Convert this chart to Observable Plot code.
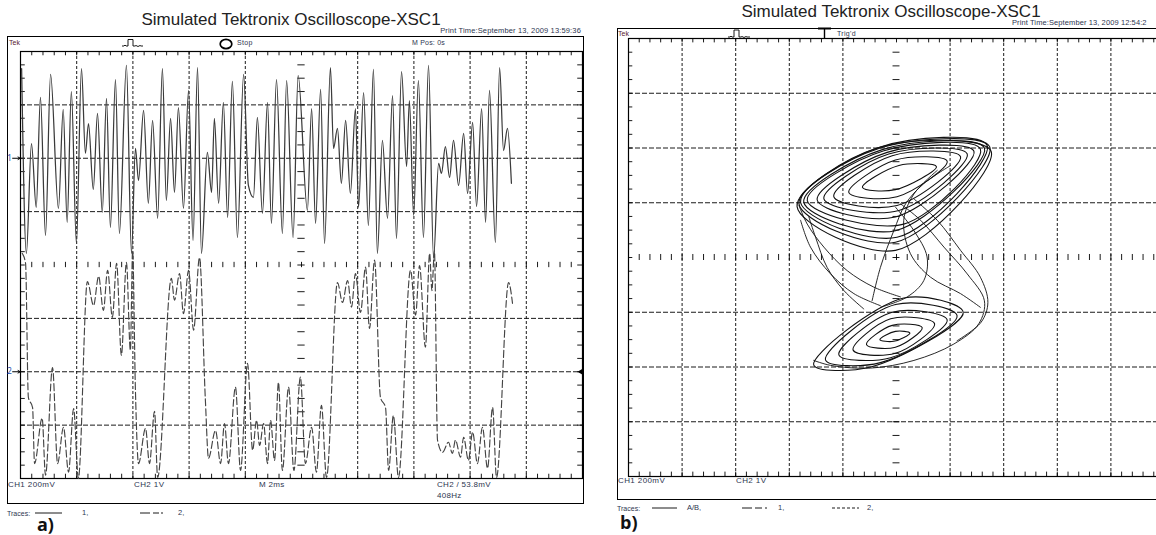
<!DOCTYPE html>
<html>
<head>
<meta charset="utf-8">
<script src="https://cdn.jsdelivr.net/npm/d3@7"></script>
<script src="https://cdn.jsdelivr.net/npm/@observablehq/plot@0.6"></script>
<style>
html,body{margin:0;padding:0;background:#fff;}
#root{position:relative;width:1156px;height:535px;overflow:hidden;font-family:"Liberation Sans",Arial,Helvetica,sans-serif;background:#fff;}
.t{position:absolute;white-space:nowrap;line-height:1;}
.box{position:absolute;border:1px solid #000;box-sizing:border-box;}
.layer{position:absolute;top:0;}
</style>
</head>
<body>
<div id="root"></div>
<script>
// ---------------- Panel a) : time traces ----------------
const title = "Simulated Tektronix Oscilloscope-XSC1";
const printTimeA = "Print Time:September 13, 2009 13:59:36";
const printTimeB = "Print Time:September 13, 2009 12:54:2";
const footerA = ["CH1  200mV", "CH2  1V", "M 2ms", "CH2 / 53.8mV", "408Hz"];
const footerB = ["CH1  200mV", "CH2  1V"];

// CH1 trace (solid): time in ms, value in mV (200 mV/div, marker at +2 div)
const trace1Time = [0.04,0.21,0.39,0.56,0.71,0.89,1.07,1.35,1.52,1.66,
  1.81,1.99,2.17,2.31,2.42,2.59,2.74,2.91,3.06,3.20,
  3.38,3.52,3.77,3.95,4.09,4.20,4.38,4.55,4.70,4.88,
  5.05,5.19,5.34,5.48,5.62,5.80,5.98,6.14,6.30,6.44,
  6.65,6.80,6.90,7.05,7.22,7.37,7.54,7.72,7.94,8.11,
  8.29,8.43,8.61,8.79,8.93,9.11,9.32,9.47,9.70,9.88,
  10.21,10.36,10.50,10.68,10.82,11.03,11.14,11.28,11.42,11.57,
  11.74,11.92,12.03,12.21,12.38,12.56,12.70,12.88,13.06,13.24,
  13.38,13.56,13.74,13.84,13.99,14.16,14.34,14.52,14.70,14.88,
  14.98,15.12,15.27,15.41,15.59,15.77,15.91,16.09,16.23,16.41,
  16.55,16.69,16.90,17.05,17.19,17.33,17.47];
const trace1mV = [336,-357,55,-184,228,-289,314,-188,183,-240,
  250,-319,336,18,130,-117,168,-203,224,-259,
  295,-282,348,-357,37,-83,179,-169,142,-225,
  336,-158,149,-128,190,-188,254,-308,340,-357,
  22,-128,149,-169,209,-222,288,-297,314,-102,
  -147,153,-207,209,-244,295,-282,291,-297,310,
  -195,186,-244,258,-319,340,37,112,-94,142,
  -132,186,-184,246,-252,333,-357,67,-225,235,
  -300,325,-31,216,-214,291,-297,348,-375,-19,
  -57,44,-72,67,-102,93,-132,134,-181,186,
  -240,254,-315,340,29,112,-94];

// CH2 trace (dashed): time in ms, value in V (1 V/div, marker at -2 div)
const trace2Time = [0.06,0.18,0.28,0.43,0.50,0.77,0.89,1.14,1.32,1.53,
  1.71,1.89,2.06,2.38,2.60,2.78,2.95,3.10,3.27,3.42,
  3.59,3.77,3.91,3.99,4.09,4.20,4.45,4.59,4.77,4.88,
  5.37,5.48,5.66,5.80,5.98,6.16,6.37,6.58,6.69,6.94,
  7.12,7.26,7.40,7.65,7.83,8.08,8.26,8.40,8.51,8.65,
  8.79,8.90,9.04,9.18,9.32,9.54,9.73,9.96,10.14,10.36,
  10.53,10.71,10.89,11.28,11.46,11.64,11.78,11.92,12.10,12.28,
  12.42,12.60,12.81,12.99,13.10,13.27,13.45,13.88,14.06,14.20,
  14.41,14.56,14.64,14.73,14.84,15.02,15.23,15.37,15.48,15.66,
  15.77,15.94,16.09,16.26,16.44,16.62,16.80,16.94,17.37,17.51];
const trace2V = [2.22,2.03,-0.48,-0.67,-1.72,-0.87,-1.94,0.08,-1.72,-1.04,
  -1.88,-0.69,-2.00,1.69,1.24,1.79,1.15,1.90,1.02,2.03,
  0.31,2.05,0.40,2.27,-0.35,-1.72,-1.06,-1.72,-0.74,-1.98,
  1.75,1.34,1.84,1.09,1.90,0.78,2.14,-0.54,-1.62,-1.10,
  -1.72,-0.97,-1.72,-0.29,-1.85,0.16,-1.47,-0.91,-1.38,-0.97,
  -1.72,-0.91,-1.66,-0.20,-1.85,-0.29,-1.85,-0.10,-1.72,-1.04,
  -1.88,-0.63,-1.98,1.67,1.30,1.71,1.21,1.84,1.11,1.96,
  0.81,2.09,-0.48,-0.67,-1.85,-0.82,-1.98,1.90,1.06,1.99,
  0.46,2.22,1.52,2.27,-1.28,-1.51,-1.32,-1.53,-1.28,-1.60,
  -1.23,-1.66,-1.13,-1.72,-1.04,-1.81,-0.67,-1.98,1.67,1.28];

// ---------------- Panel b) : X-Y (B/A) attractor ----------------
// points as [CH1 mV, CH2 V]; loops given as right, top, left, bottom points
const upperLoops = [
  [[149,1.66],[9,1.68],[-127,1.28],[-4,1.24]],
  [[189,1.76],[-4,1.78],[-178,1.19],[2,1.11]],
  [[239,1.84],[-16,1.86],[-234,1.11],[2,0.95]],
  [[264,1.89],[-29,1.89],[-271,1.07],[9,0.86]],
  [[289,1.94],[-35,1.92],[-296,1.05],[-4,0.74]],
  [[313,1.98],[-47,1.95],[-333,1.04],[27,0.61]],
  [[328,2.00],[-53,1.97],[-346,1.01],[-4,0.49]],
  [[338,2.05],[-60,2.02],[-358,1.01],[2,0.37]],
  [[348,2.02],[-66,1.99],[-364,0.98],[-4,0.28]],
  [[353,1.94],[-72,2.00],[-371,0.93],[-4,0.13]]
];
const lowerLoops = [
  [[50,-1.38],[-4,-1.35],[-62,-1.50],[-10,-1.53]],
  [[96,-1.28],[-16,-1.24],[-112,-1.59],[-4,-1.64]],
  [[142,-1.21],[-22,-1.12],[-162,-1.69],[-4,-1.75]],
  [[189,-1.14],[-16,-1.00],[-215,-1.78],[-22,-1.83]],
  [[226,-1.06],[-4,-0.86],[-265,-1.87],[-60,-1.92]],
  [[249,-1.00],[27,-0.74],[-309,-1.96],[-97,-2.00]]
];
const crossings = [
  [[15,0.98],[90,0.68],[177,0.19],[264,-0.30],[328,-0.79],[307,-1.21],[214,-1.58],[65,-1.88],[-97,-2.02],[-246,-1.97],[-309,-1.88]],
  [[65,1.07],[152,0.68],[239,0.13],[313,-0.36],[341,-0.82],[316,-1.18],[226,-1.52]],
  [[-4,0.92],[65,0.49],[114,0.01],[102,-0.42],[40,-0.72],[-60,-0.91]],
  [[15,-0.72],[-85,-0.54],[-184,-0.24],[-271,0.19],[-333,0.61],[-364,0.95]],
  [[-60,-0.88],[-159,-0.66],[-246,-0.30],[-321,0.19],[-358,0.68]],
  [[-122,-0.94],[-197,-0.60],[-259,-0.18],[-302,0.37],[-327,0.74]],
  [[202,1.68],[102,1.35],[34,0.98],[-10,0.49],[-60,-0.18],[-91,-0.79]],
  [[152,1.59],[65,1.16],[27,0.68],[52,0.07],[127,-0.36],[239,-0.66],[313,-0.91]]
];

// ---------------- build ----------------
const root = document.getElementById("root");
function box(x, y, w, h) {
  const d = document.createElement("div");
  d.className = "box";
  Object.assign(d.style, {left: x + "px", top: y + "px", width: w + "px", height: h + "px"});
  root.appendChild(d);
}
function text(s, x, y, size, opts = {}) {
  const d = document.createElement("div");
  d.className = "t";
  d.textContent = s;
  const ax = opts.anchor === "middle" ? "-50%" : opts.anchor === "end" ? "-100%" : "0";
  Object.assign(d.style, {
    left: x + "px", top: y + "px", fontSize: size + "px",
    color: opts.color || "#2d3550", fontWeight: opts.weight || "normal",
    letterSpacing: (opts.ls || 0) + "px",
    transform: `translate(${ax},-50%)`
  });
  if (opts.family) d.style.fontFamily = opts.family;
  root.appendChild(d);
}
function layer(node, left, width) {
  const w = document.createElement("div");
  w.className = "layer";
  w.style.left = left + "px";
  w.style.width = width + "px";
  w.appendChild(node);
  root.appendChild(w);
}

box(7, 36, 577, 468);
box(617, 28, 600, 472);

const ink = "#000";
const gridStyle = {stroke: ink, strokeWidth: 0.9};

// ---- Plot a ----
const tr1 = trace1Time.map((t, i) => ({t, v: trace1mV[i]}));
const tr2 = trace2Time.map((t, i) => ({t, v: trace2V[i]}));
const gridMs = [2, 4, 6, 8, 12, 14, 16, 18];
const gridDiv = [-3, -2, -1, 1, 2, 3];
const minorMs = d3.range(1, 50).map(i => i * 0.4);
const minorDiv = d3.range(-15, 16).map(i => i * 0.25);

const plotA = Plot.plot({
  width: 590, height: 535,
  marginLeft: 20, marginRight: 8, marginTop: 51, marginBottom: 57,
  x: {domain: [0, 20], axis: null},
  y: {domain: [-4, 4], axis: null},
  style: {background: "transparent", overflow: "visible"},
  marks: [
    Plot.ruleX(gridMs, {...gridStyle, strokeDasharray: "3,2"}),
    Plot.ruleY(gridDiv, {...gridStyle, strokeDasharray: "5,2"}),
    Plot.ruleX(minorMs, {x: d => d, y1: -0.05, y2: 0.05, ...gridStyle}),
    Plot.ruleY(minorDiv, {y: d => d, x1: 9.87, x2: 10.13, ...gridStyle}),
    Plot.ruleX(minorMs, {x: d => d, y1: 4, y2: 3.92, ...gridStyle}),
    Plot.ruleX(minorMs, {x: d => d, y1: -4, y2: -3.92, ...gridStyle}),
    Plot.ruleY(minorDiv, {y: d => d, x1: 0, x2: 0.17, ...gridStyle}),
    Plot.ruleY(minorDiv, {y: d => d, x1: 20, x2: 19.83, ...gridStyle}),
    Plot.frame({stroke: ink, strokeWidth: 1.2}),
    Plot.line(tr1, {x: "t", y: d => d.v / 200 + 2, curve: "monotone-x", stroke: "#3a3a3a", strokeWidth: 1.25}),
    Plot.line(tr2, {x: "t", y: d => d.v - 2, curve: "monotone-x", stroke: "#444", strokeWidth: 1.15, strokeDasharray: "7,3"}),
    Plot.text(["1", "2"], {x: 0, y: (d, i) => i ? -2 : 2, text: d => d, dx: -11, fontSize: 8, fill: "#1c4fa8"}),
    Plot.arrow(["1", "2"], {x1: -0.28, x2: -0.01, y1: (d, i) => i ? -2 : 2, y2: (d, i) => i ? -2 : 2, stroke: ink, strokeWidth: 1, headLength: 4}),
    Plot.dot([0], {x: 20, y: -2, symbol: "triangle", r: 2.6, fill: ink, stroke: "none", rotate: -90, dx: -1})
  ]
});
layer(plotA, 0, 590);

// ---- Plot b ----
const loopPts = [...upperLoops, ...lowerLoops].flatMap((ring, k) => ring.map(([x, y]) => ({x, y, k})));
const crossPts = crossings.flatMap((p, k) => p.map(([x, y]) => ({x, y, k})));
const gridMv = [-800, -600, -400, -200, 200, 400, 600, 800];
const minorMv = d3.range(-24, 25).map(i => i * 40);

const plotB = Plot.plot({
  width: 580, height: 535,
  marginLeft: 28, marginRight: 16, marginTop: 38, marginBottom: 59,
  x: {domain: [-1000, 1000], axis: null},
  y: {domain: [-4, 4], axis: null},
  style: {background: "transparent", overflow: "visible"},
  marks: [
    Plot.ruleX(gridMv, {...gridStyle, strokeDasharray: "3,2"}),
    Plot.ruleY(gridDiv, {...gridStyle, strokeDasharray: "5,2"}),
    Plot.ruleX(minorMv, {x: d => d, y1: -0.055, y2: 0.055, ...gridStyle}),
    Plot.ruleY(minorDiv, {y: d => d, x1: -13, x2: 13, ...gridStyle}),
    Plot.ruleX(minorMv, {x: d => d, y1: 4, y2: 3.92, ...gridStyle}),
    Plot.ruleX(minorMv, {x: d => d, y1: -4, y2: -3.92, ...gridStyle}),
    Plot.ruleY(minorDiv, {y: d => d, x1: -1000, x2: -984, ...gridStyle}),
    Plot.frame({stroke: ink, strokeWidth: 1.2}),
    Plot.line(loopPts, {x: "x", y: "y", z: "k", curve: "catmull-rom-closed", stroke: "#111", strokeWidth: 1.1}),
    Plot.line(crossPts, {x: "x", y: "y", z: "k", curve: "catmull-rom", stroke: "#111", strokeWidth: 0.9})
  ]
});
layer(plotB, 600, 580);

// ---- decorations (icons + legend swatches) ----
const ns = "http://www.w3.org/2000/svg";
const deco = document.createElementNS(ns, "svg");
deco.setAttribute("width", 1156); deco.setAttribute("height", 535);
deco.style.position = "absolute"; deco.style.left = "0"; deco.style.top = "0";
deco.innerHTML = `
<g fill="none" stroke="#000" stroke-width="0.9">
  <path d="M122,46 L124,46 L125,45 L126,46 L128,46 L128,39.5 L133,39.5 L133,46 L135,46 Q136,45 137,46 Q138,47 139,46 Q140,45 141,46 L143,46"/>
  <ellipse cx="226" cy="44" rx="5.8" ry="4.6" stroke-width="1.7"/>
  <path d="M728,37 L730,37 L731,36 L732,37 L734,37 L734,30 L739,30 L739,37 L741,37 Q742,36 743,37 Q744,38 745,37 Q746,36 747,37 L750,37"/>
  <path d="M818,28.5 L831,28.5" stroke-width="2"/>
  <path d="M824.5,28 L824.5,38" stroke-width="1.4"/>
  <path d="M35,513 L62,513"/>
  <path d="M140,513 L150,513 M153,513 L159,513 M161,513 L163,513"/>
  <path d="M652,508 L677,508"/>
  <path d="M742,508 L752,508 M755,508 L762,508 M765,508 L767,508"/>
  <path d="M832,508 L859,508" stroke-dasharray="3,2"/>
</g>`;
root.appendChild(deco);

// ---- texts panel a ----
text(title, 291, 19, 17, {anchor: "middle", color: "#222"});
text(printTimeA, 581, 31, 7.5, {anchor: "end", ls: 0.15});
text("Tek", 9, 42, 7, {color: "#5a2030"});
text("Stop", 237, 42, 7, {ls: 0.3});
text("M Pos: 0s", 412, 42, 7, {ls: 0.2});
text(footerA[0], 8, 485, 8, {ls: 0.4});
text(footerA[1], 134, 485, 8, {ls: 0.4});
text(footerA[2], 259, 485, 8, {ls: 0.3});
text(footerA[3], 437, 485, 8, {ls: 0.3});
text(footerA[4], 437, 496, 8, {ls: 0.3});
text("Traces:", 7, 513, 7);
text("1,", 82, 513, 7.5);
text("2,", 178, 513, 7.5);
text("a)", 37, 524, 18, {weight: "bold", color: "#111", family: "'Open Sans', 'Liberation Sans', sans-serif"});

// ---- texts panel b ----
text(title, 891, 11, 17, {anchor: "middle", color: "#222"});
text(printTimeB, 1012, 22.5, 7.5, {ls: 0.1});
text("Tek", 618, 32.5, 7, {color: "#5a2030"});
text("Trig'd", 837, 32.5, 7, {ls: 0.3});
text(footerB[0], 618, 481, 8, {ls: 0.4});
text(footerB[1], 736, 481, 8, {ls: 0.4});
text("Traces:", 617, 508, 7);
text("A/B,", 687, 508, 7.5);
text("1,", 778, 508, 7.5);
text("2,", 867, 508, 7.5);
text("b)", 620, 522, 18, {weight: "bold", color: "#111", family: "'Open Sans', 'Liberation Sans', sans-serif"});
</script>
</body>
</html>
